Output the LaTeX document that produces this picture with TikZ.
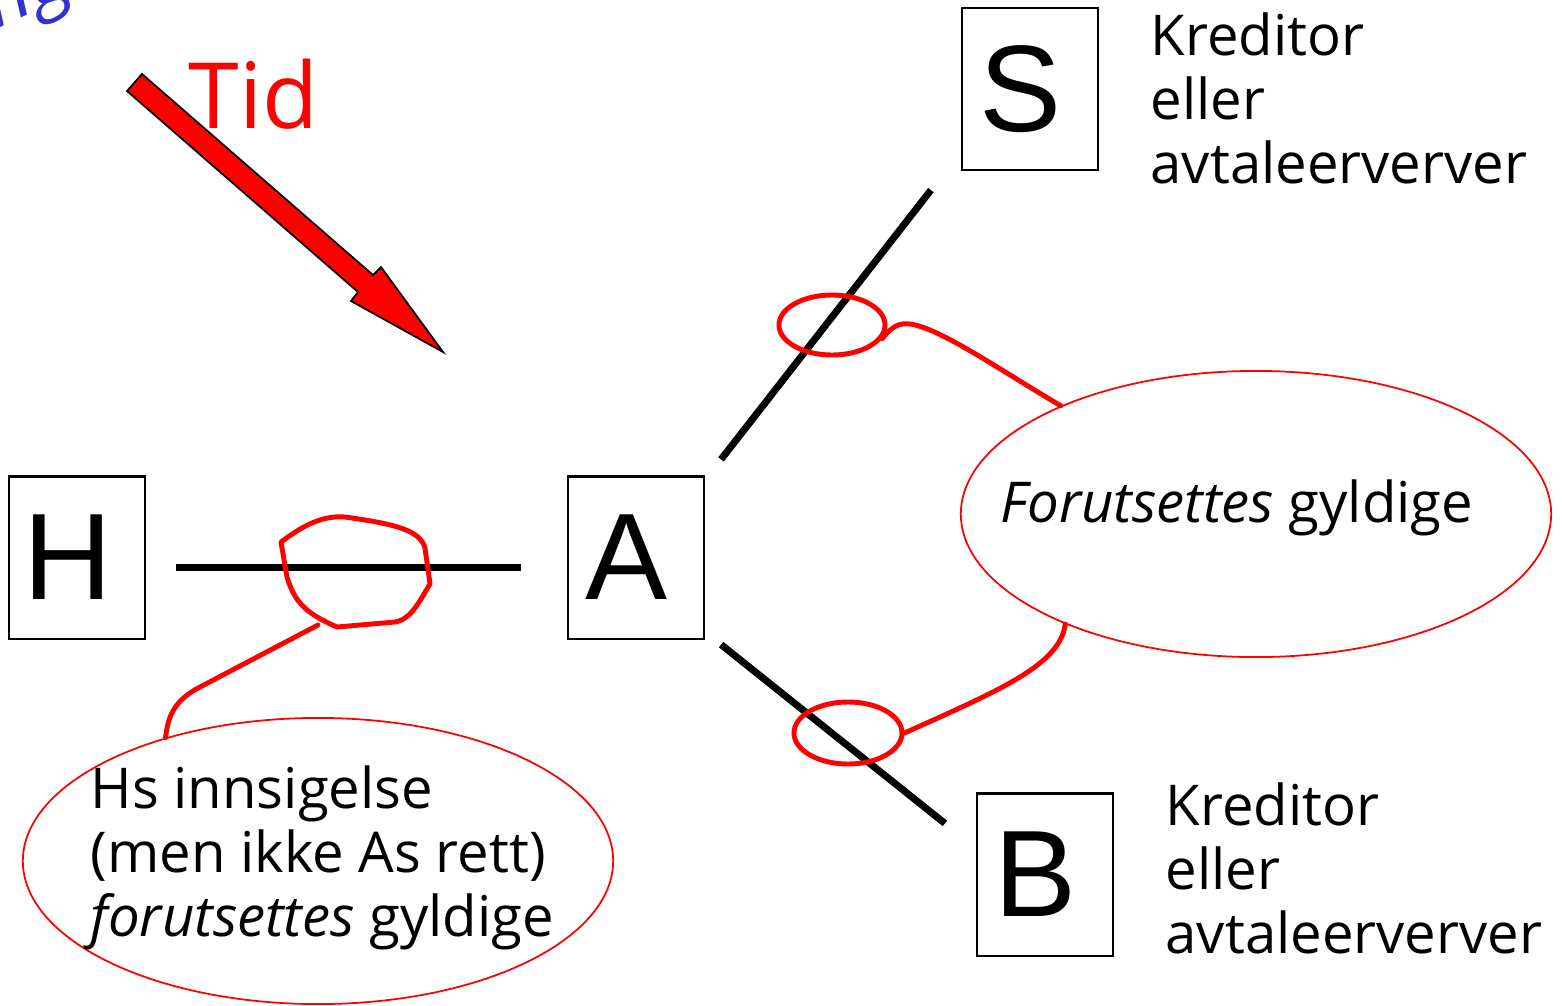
\documentclass[tikz,border=0pt]{standalone}
\usepackage{fontspec}
\setmainfont{Open Sans}
\newfontfamily\boxfont{Liberation Sans}
\usepackage{tikz}
\usetikzlibrary{shapes,calc}
\definecolor{inkblue}{RGB}{51,51,204}

\begin{document}
\begin{tikzpicture}[x=0.01cm,y=-0.01cm,
    party/.style={draw,line width=0.6pt,minimum width=1.36cm,minimum height=1.62cm,inner sep=0pt,
        font=\boxfont\fontsize{35}{40}\selectfont},
    bar/.style={line width=2pt},
    redline/.style={draw=red,line width=1.4pt,line cap=round,line join=round},
    ring/.style={ellipse,draw=red,line width=1.4pt,inner sep=0pt},
    bubble/.style={ellipse,draw=red,line width=0.5pt,minimum width=5.9cm,minimum height=2.86cm,inner sep=0pt},
    txt/.style={inner sep=0pt,align=left,font=\fontsize{16}{18.2}\selectfont}]
\clip (0,0) rectangle (1562,1005);

% cut-off scribble in the corner
\node[text=inkblue,inner sep=0pt,anchor=base west,rotate=25,font=\fontsize{22}{22}\selectfont\itshape] (scrap) at (-4,30) {ng};

% time arrow
\filldraw[fill=red,draw=black,line width=0.5pt] (127,91) -- (142,74) -- (373,275) -- (381,267)
    -- (443,352) -- (351,301) -- (358,292) -- cycle;
\node[text=red,inner sep=0pt,anchor=base west,font=\fontsize{26}{30}\selectfont] (tid) at (188,128) {Tid};

% the parties
\node[party] (hbox) at (77,557.5) {H\kern0.18cm};
\node[party] (abox) at (636,557.5) {A\kern0.18cm};
\node[party] (sbox) at (1030,89) {S\kern0.18cm};
\node[party] (bbox) at (1045,874.5) {B\kern0.18cm};

\node[txt,anchor=north west] (stext) at (1150,12) {Kreditor\\eller\\avtaleerverver};
\node[txt,anchor=north west] (btext) at (1165,782) {Kreditor\\eller\\avtaleerverver};

% links between them
\draw[bar] ([shift={(30,10)}]hbox.east) -- ([shift={(-46,10)}]abox.west);
\draw[bar] ([shift={(16,-16)}]abox.north east) -- ([shift={(-30,19)}]sbox.south west);
\draw[bar] ([shift={(16,5)}]abox.south east) -- ([shift={(-31,31)}]bbox.north west);

% marks on the links
\draw[redline] (281,542) -- (287,577) .. controls (295,605) and (310,615) .. (337,627) -- (395,622)
    .. controls (412,619) and (420,600) .. (430,584) -- (425,548)
    .. controls (420,530) and (395,524) .. (345,517) .. controls (320,515) and (300,528) .. cycle;
\coordinate (sqtail) at (318,625);
\node[ring,minimum width=1.06cm,minimum height=0.6cm] (ringS) at (832,325) {};
\node[ring,minimum width=1.08cm,minimum height=0.62cm] (ringB) at (848,733) {};

% comments
\node[bubble] (rbub) at (1256,514) {};
\node[txt,anchor=base west] (rtext) at (1000,522) {\textit{Forutsettes} gyldige};
\node[bubble] (lbub) at (318,861) {};
\node[txt,anchor=north west] (ltext) at (90,765) {Hs innsigelse\\(men ikke As rett)\\\textit{forutsettes} gyldige};

\draw[redline] (ringS.-15) .. controls (893,325) and (900,323) .. (910,324)
    .. controls (940,328) and (1000,370) .. (rbub.151);
\draw[redline] (ringB.east) .. controls (1000,690) and (1060,665) .. (rbub.210);
\draw[redline] (sqtail) -- (200,687) .. controls (175,700) and (168,715) .. (lbub.141);

\end{tikzpicture}
\end{document}
